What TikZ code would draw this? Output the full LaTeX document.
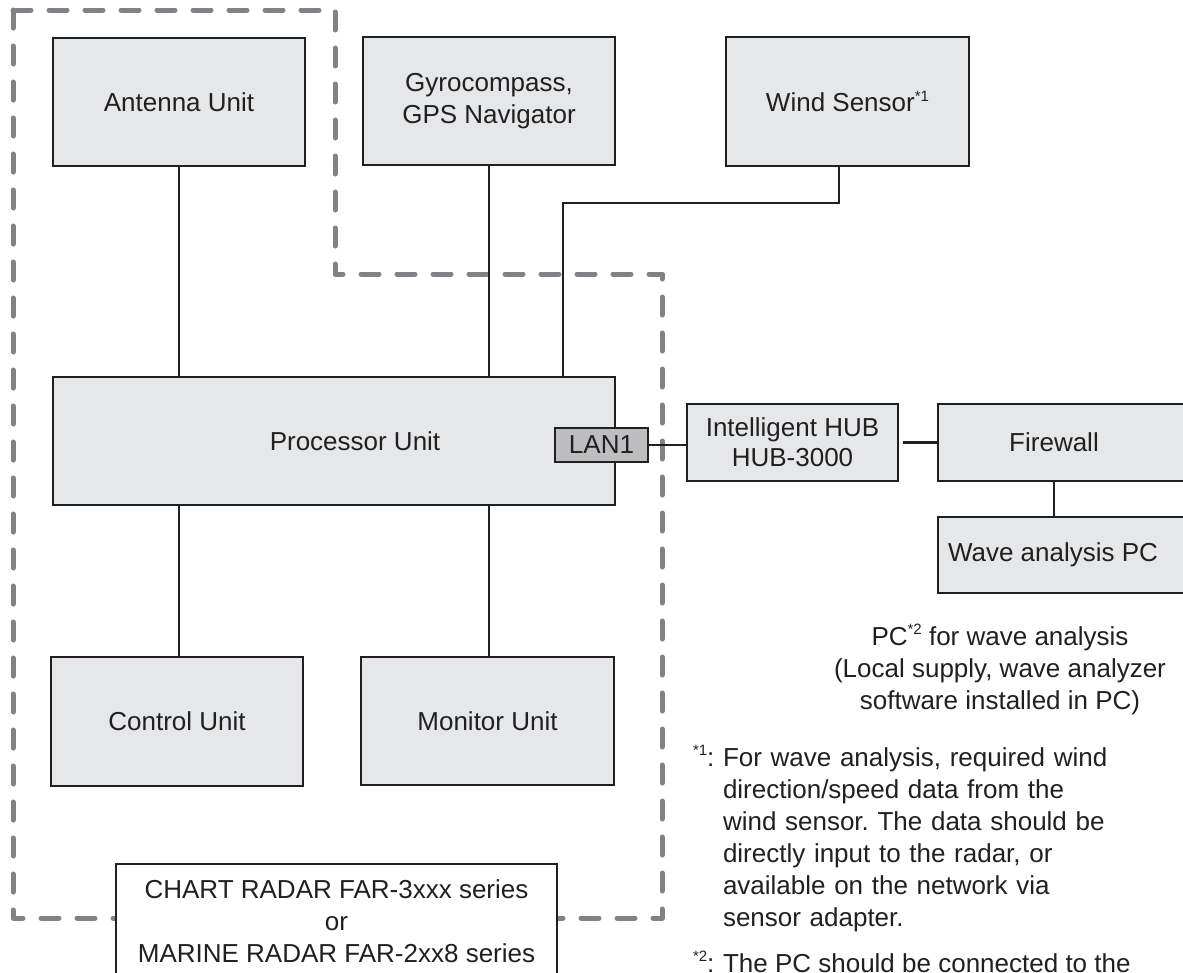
\documentclass[tikz,border=0pt]{standalone}
\usepackage{fontspec}
\setmainfont{Liberation Sans}
\definecolor{boxfill}{HTML}{E6E7E8}
\definecolor{lanfill}{HTML}{BCBEC0}
\definecolor{inkc}{HTML}{231F20}
\definecolor{dashc}{HTML}{808285}
\newcommand\supmark[1]{\raisebox{0.42em}{\fontsize{15}{15}\selectfont #1}}
\frenchspacing
\begin{document}
\begin{tikzpicture}[x=1pt,y=-1pt,
  every node/.style={font=\fontsize{26}{32}\selectfont, text=inkc, inner sep=0pt, outer sep=0pt},
  unitbox/.style={draw=inkc, fill=boxfill, line width=2.8pt, align=center},
  lanport/.style={draw=inkc, fill=lanfill, line width=2.8pt},
  wire/.style={draw=inkc, line width=2.2pt},
  frameline/.style={draw=dashc, line width=5pt, dash pattern=on 18pt off 18pt, line cap=round, line join=round}]
\useasboundingbox (0,0) rectangle (1183,972);
\clip (0,0) rectangle (1183,972);

% dashed outline of the radar system
\draw[frameline] (13,10) -- (335,10) -- (335,274) -- (662,274) -- (662,918) -- (13,918) -- cycle;

% units
\node[unitbox, minimum width=252pt, minimum height=128pt] (ant) at (179,102) {Antenna Unit};
\node[unitbox, minimum width=252pt, minimum height=128pt] (gyro) at (489,101) {Gyrocompass,\\GPS Navigator};
\node[unitbox, minimum width=243pt, minimum height=129pt] (wind) at (847.5,101.5) {Wind Sensor\supmark{*1}};
\node[unitbox, minimum width=562pt, minimum height=128pt] (proc) at (334,441) {\hspace*{42pt}Processor Unit};
\node[unitbox, minimum width=252pt, minimum height=129pt] (ctrl) at (177,721.5) {Control Unit};
\node[unitbox, minimum width=253pt, minimum height=128pt] (mon) at (487.5,721) {Monitor Unit};
\node[lanport, minimum width=93pt, minimum height=34pt] (lan) at (601.5,445) {LAN1};
\node[unitbox, minimum width=211pt, minimum height=77pt, font=\fontsize{26}{30}\selectfont] (hub) at (792.5,442.5) {Intelligent HUB\\HUB-3000};
\node[unitbox, minimum width=250pt, minimum height=77pt] (fw) at (1063,442.5) {Firewall\hspace*{18pt}};
\node[unitbox, minimum width=250pt, minimum height=76pt] (pc) at (1063,555) {Wave analysis PC\hspace*{20pt}};
\node[draw=inkc, fill=white, line width=2.8pt, minimum width=441pt, minimum height=115pt, align=center] (chart) at (336.5,921.5) {CHART RADAR FAR-3xxx series\\or\\MARINE RADAR FAR-2xx8 series};

% connectors
\coordinate (wbend) at (563,203);
\draw[wire] (ant.south) -- (ant.south |- proc.north);
\draw[wire] (gyro.south) -- (gyro.south |- proc.north);
\draw[wire] ([xshift=-8.5pt]wind.south) |- (wbend) -- (wbend |- proc.north);
\draw[wire] (ant.south |- proc.south) -- (ant.south |- ctrl.north);
\draw[wire] (gyro.south |- proc.south) -- (gyro.south |- mon.north);
\draw[wire] (lan.east) -- (lan.east -| hub.west);
\draw[wire, shorten <=5pt] (hub.east) -- (hub.east -| fw.west);
\draw[wire] ([xshift=-9pt]fw.south) -- ([xshift=-9pt]pc.north);

% notes
\node[align=center] (note) at (1000,669) {PC\supmark{*2} for wave analysis\\(Local supply, wave analyzer\\software installed in PC)};
\node[anchor=base west] (f1l) at (693,766) {\supmark{*1}:};
\node[anchor=base west, text width=460pt, align=left] (f1) at (723,766) {For wave analysis, required wind\\direction/speed data from the\\wind sensor. The data should be\\directly input to the radar, or\\available on the network via\\sensor adapter.};
\node[anchor=base west] (f2l) at (693,972) {\supmark{*2}:};
\node[anchor=base west] (f2) at (723,972) {The PC should be connected to the};
\end{tikzpicture}
\end{document}
